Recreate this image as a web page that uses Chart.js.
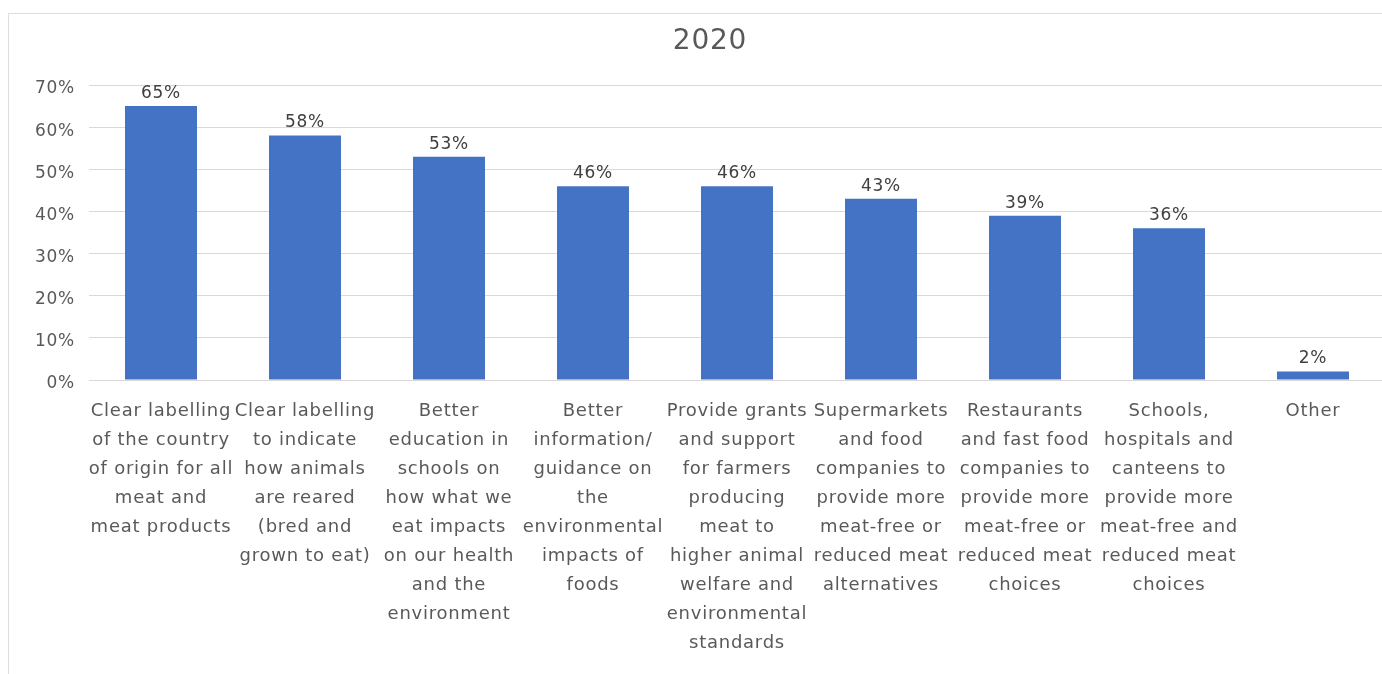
<!DOCTYPE html>
<html>
<head>
<meta charset="utf-8">
<title>2020</title>
<script src="https://cdn.jsdelivr.net/npm/chart.js@4"></script>
<style>
  html, body { margin: 0; padding: 0; background: #fff; overflow: hidden; }
  #frame {
    position: absolute; left: 8px; top: 13px;
    width: 1400px; height: 661px;
    border-top: 1px solid #dedede; border-left: 1px solid #dedede;
  }
</style>
</head>
<body>
<div id="frame"><canvas id="chart"></canvas></div>
<script>
const title = '2020';
const categories = [
  ['Clear labelling', 'of the country', 'of origin for all', 'meat and', 'meat products'],
  ['Clear labelling', 'to indicate', 'how animals', 'are reared', '(bred and', 'grown to eat)'],
  ['Better', 'education in', 'schools on', 'how what we', 'eat impacts', 'on our health', 'and the', 'environment'],
  ['Better', 'information/', 'guidance on', 'the', 'environmental', 'impacts of', 'foods'],
  ['Provide grants', 'and support', 'for farmers', 'producing', 'meat to', 'higher animal', 'welfare and', 'environmental', 'standards'],
  ['Supermarkets', 'and food', 'companies to', 'provide more', 'meat-free or', 'reduced meat', 'alternatives'],
  ['Restaurants', 'and fast food', 'companies to', 'provide more', 'meat-free or', 'reduced meat', 'choices'],
  ['Schools,', 'hospitals and', 'canteens to', 'provide more', 'meat-free and', 'reduced meat', 'choices'],
  ['Other']
];
const shares = [65, 58, 53, 46, 46, 43, 39, 36, 2];
const yTicks = [0, 10, 20, 30, 40, 50, 60, 70];

const FONT = '"DejaVu Sans", sans-serif';

// slightly looser text, the way the spreadsheet renders it
const spacing = {
  id: 'spacing',
  beforeDraw(chart) { chart.ctx.letterSpacing = '0.75px'; }
};

// value labels sitting on top of each bar
const barLabels = {
  id: 'barLabels',
  afterDatasetsDraw(chart) {
    const { ctx } = chart;
    ctx.save();
    ctx.font = '17px ' + FONT;
    ctx.fillStyle = '#404040';
    ctx.textAlign = 'center';
    ctx.textBaseline = 'bottom';
    chart.getDatasetMeta(0).data.forEach((bar, i) => {
      ctx.fillText(shares[i] + '%', bar.x, bar.y - 4);
    });
    ctx.restore();
  }
};

new Chart(document.getElementById('chart'), {
  type: 'bar',
  plugins: [spacing, barLabels],
  data: {
    labels: categories,
    datasets: [{
      data: shares,
      backgroundColor: '#4472C4',
      barPercentage: 0.5,
      categoryPercentage: 1.0
    }]
  },
  options: {
    responsive: true,
    maintainAspectRatio: false,
    animation: false,
    layout: { padding: { left: 26, right: 24, top: 0, bottom: 0 } },
    plugins: {
      legend: { display: false },
      tooltip: { enabled: false },
      title: {
        display: true,
        text: title,
        color: '#595959',
        font: { family: FONT, size: 28, weight: 'normal' },
        padding: { top: 11, bottom: 26.4 }
      }
    },
    scales: {
      x: {
        grid: { display: false, drawTicks: false },
        border: { display: false },
        ticks: {
          color: '#595959',
          font: { family: FONT, size: 18, lineHeight: 1.611 },
          padding: 16.5,
          maxRotation: 0,
          autoSkip: false
        },
        afterFit(scale) { scale.height = 295; }
      },
      y: {
        min: 0,
        max: 70,
        afterBuildTicks(scale) { scale.ticks = yTicks.map(v => ({ value: v })); },
        grid: { color: '#d9d9d9', lineWidth: 1, drawTicks: false },
        border: { display: false },
        ticks: {
          color: '#595959',
          font: { family: FONT, size: 17 },
          padding: 14,
          labelOffset: 4,
          callback: v => v + '%'
        },
        afterFit(scale) { scale.width = 54; }
      }
    }
  }
});
</script>
</body>
</html>
